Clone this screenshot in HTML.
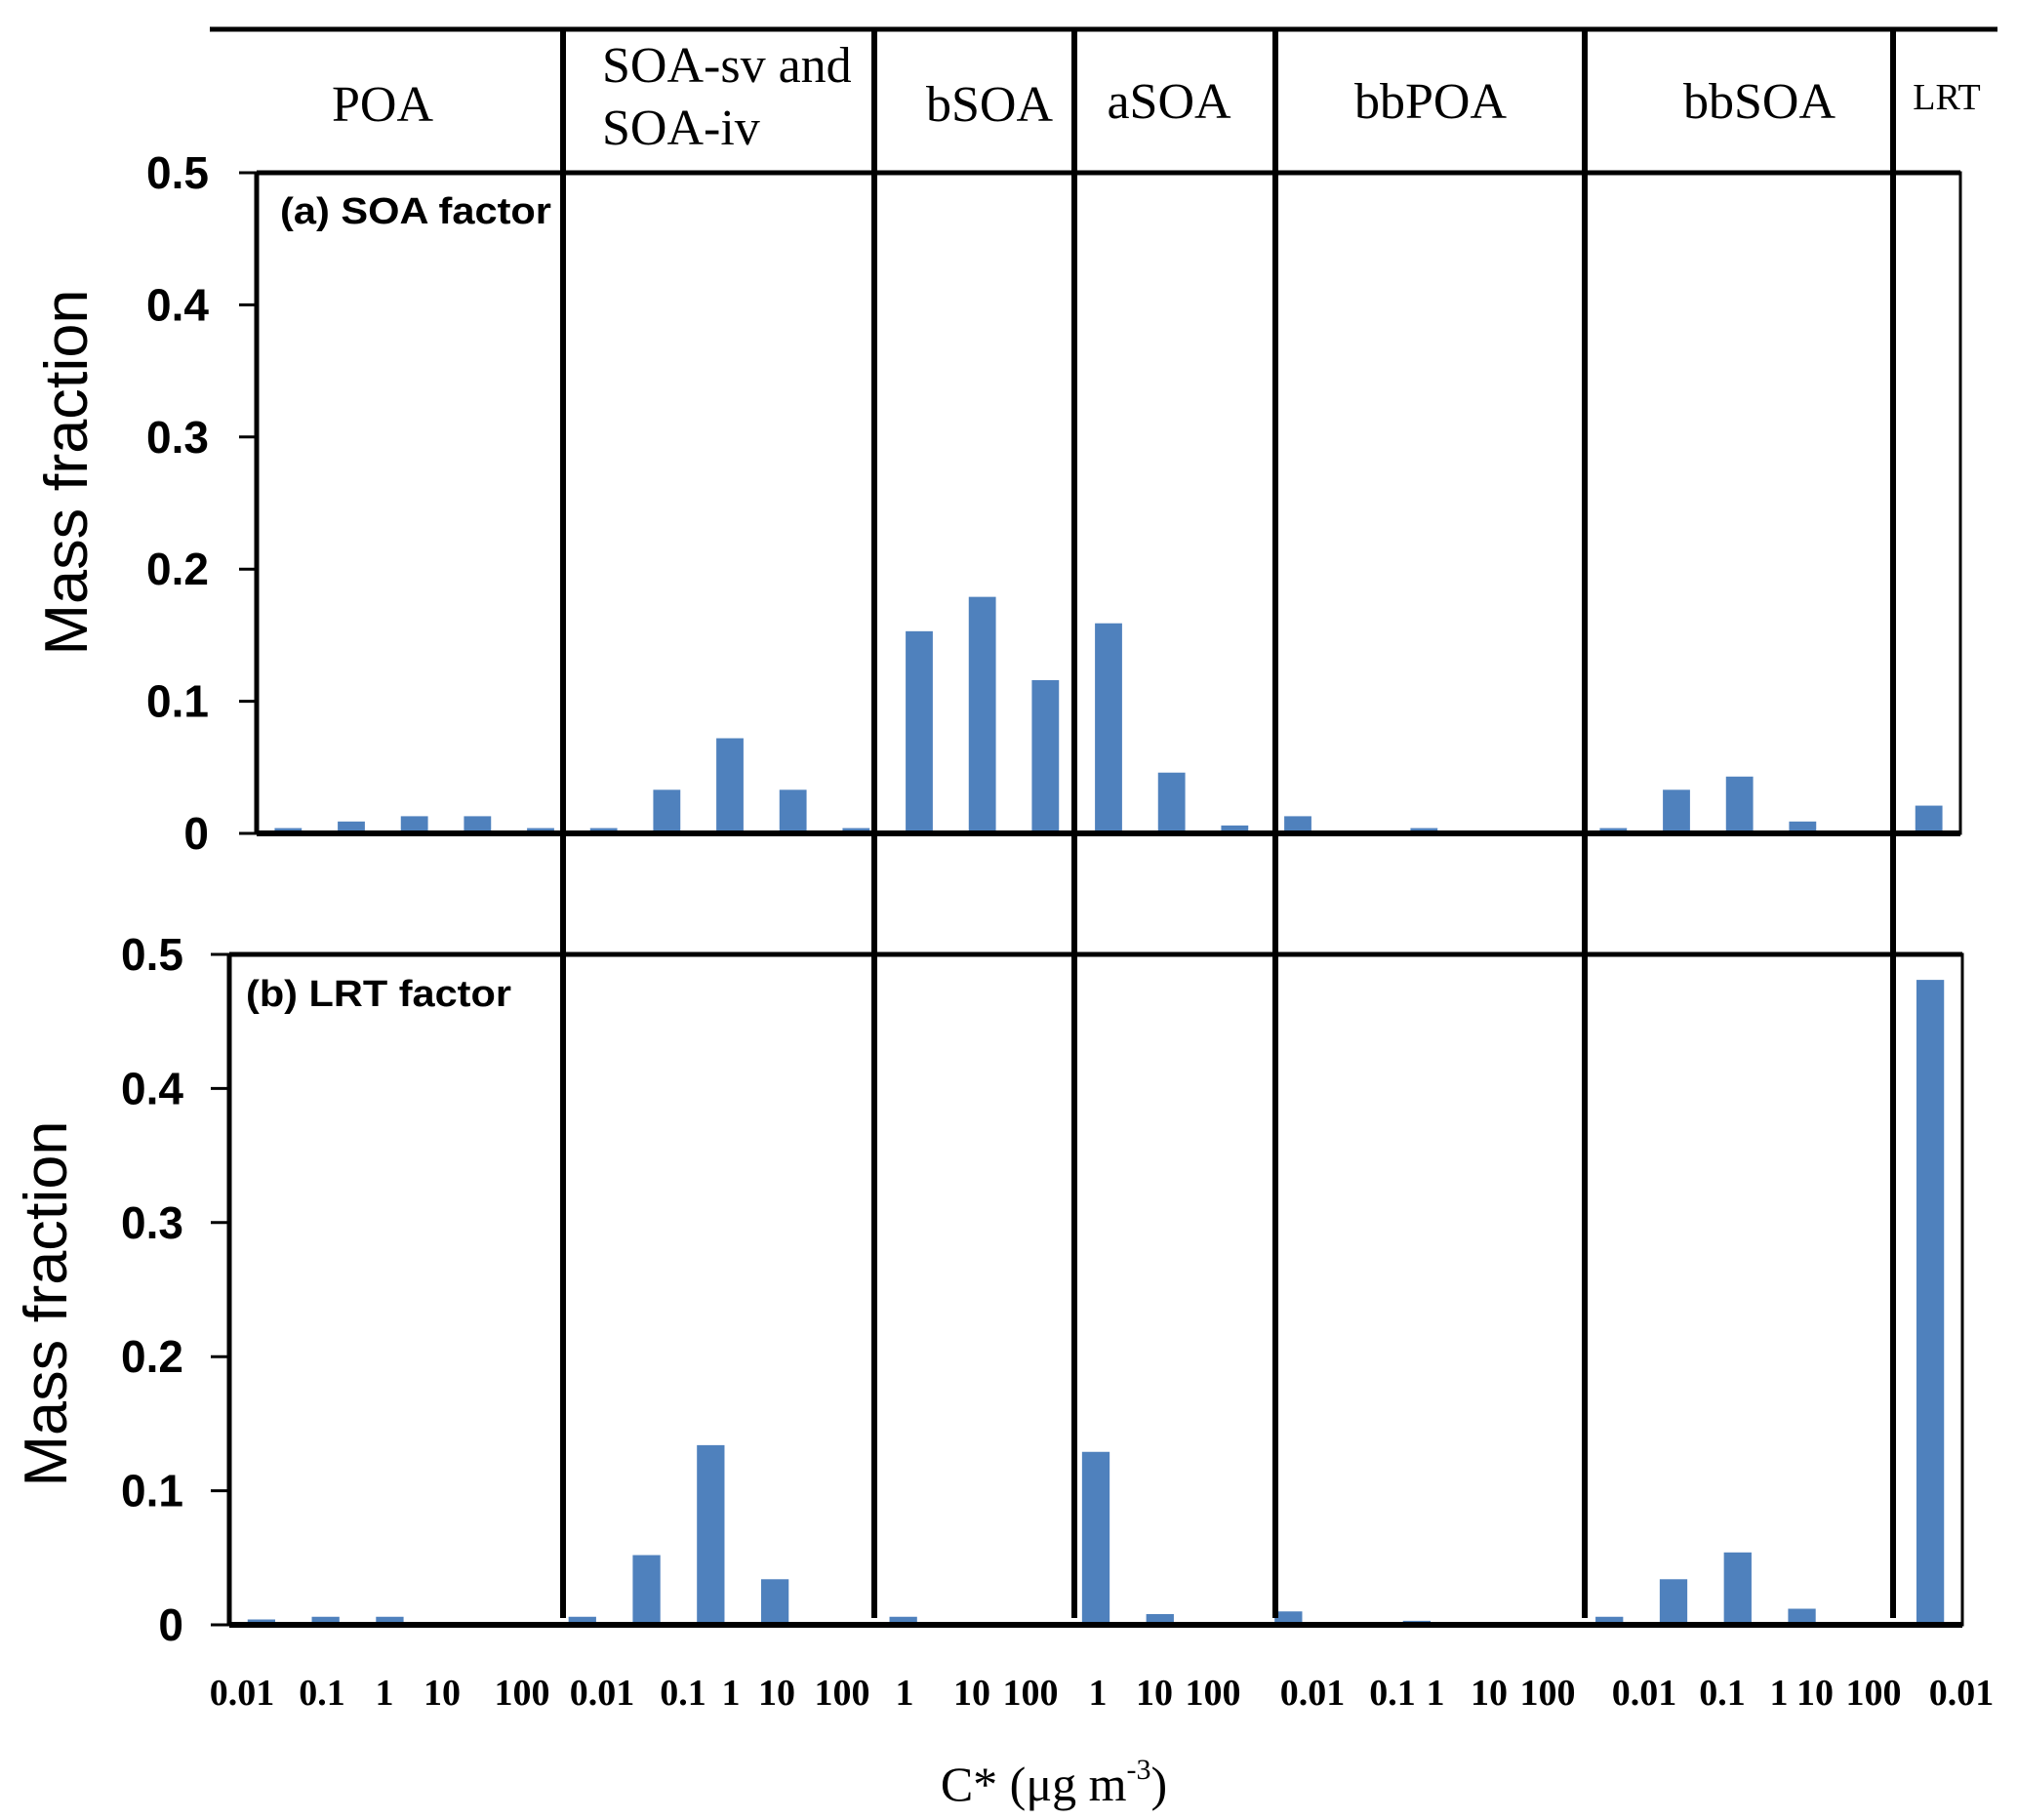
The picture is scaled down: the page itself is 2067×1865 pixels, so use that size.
<!DOCTYPE html>
<html><head><meta charset="utf-8"><style>
html,body{margin:0;padding:0;background:#fff;}
svg{display:block;}
</style></head><body>
<svg id="chart" xmlns="http://www.w3.org/2000/svg" width="2067" height="1865" viewBox="0 0 2067 1865">
<rect x="0" y="0" width="2067" height="1865" fill="#fff"/>
<g id="bars-a"></g>
<g id="bars-b"></g>
<g id="frame"></g>
<g id="texts" font-family="'Liberation Serif', serif" fill="#000">
  <text x="392" y="124" font-size="52" text-anchor="middle">POA</text>
  <text x="617" y="84" font-size="52">SOA-sv and</text>
  <text x="617" y="148" font-size="52">SOA-iv</text>
  <text x="1014" y="124" font-size="52" text-anchor="middle">bSOA</text>
  <text x="1198" y="121" font-size="52" text-anchor="middle">aSOA</text>
  <text x="1466" y="121" font-size="52" text-anchor="middle">bbPOA</text>
  <text x="1803" y="121" font-size="52" text-anchor="middle">bbSOA</text>
  <text x="1995" y="112" font-size="38" text-anchor="middle">LRT</text>
  <text x="287" y="229" font-size="38" font-weight="bold" font-family="'Liberation Sans', sans-serif" textLength="278" lengthAdjust="spacingAndGlyphs">(a) SOA factor</text>
  <text x="252" y="1031" font-size="38" font-weight="bold" font-family="'Liberation Sans', sans-serif" textLength="272" lengthAdjust="spacingAndGlyphs">(b) LRT factor</text>
  <text transform="translate(89,484) rotate(-90)" font-size="62" font-family="'Liberation Sans', sans-serif" text-anchor="middle" textLength="375" lengthAdjust="spacingAndGlyphs">Mass fraction</text>
  <text transform="translate(68,1336) rotate(-90)" font-size="62" font-family="'Liberation Sans', sans-serif" text-anchor="middle" textLength="375" lengthAdjust="spacingAndGlyphs">Mass fraction</text>
  <text x="1080" y="1845" font-size="50" text-anchor="middle">C* (μg m<tspan font-size="30" dy="-22">-3</tspan><tspan dy="22">)</tspan></text>
</g>
<g id="xlabels" font-family="'Liberation Serif', serif" font-weight="bold" font-size="38" fill="#000" text-anchor="middle"></g>
<g id="ylabels" font-family="'Liberation Sans', sans-serif" font-weight="bold" font-size="46" fill="#000" text-anchor="end"></g>
</svg>
<script>
const categories = ["POA 0.01","POA 0.1","POA 1","POA 10","POA 100","SOA 0.01","SOA 0.1","SOA 1","SOA 10","SOA 100","bSOA 1","bSOA 10","bSOA 100","aSOA 1","aSOA 10","aSOA 100","bbPOA 0.01","bbPOA 0.1","bbPOA 1","bbPOA 10","bbPOA 100","bbSOA 0.01","bbSOA 0.1","bbSOA 1","bbSOA 10","bbSOA 100","LRT 0.01"];
const soaFactor = [0.004,0.009,0.013,0.013,0.004, 0.004,0.033,0.072,0.033,0.004, 0.153,0.179,0.116, 0.159,0.046,0.006, 0.013,0,0.004,0.002,0.002, 0.004,0.033,0.043,0.009,0.002, 0.021];
const lrtFactor = [0.004,0.006,0.006,0.002,0, 0.006,0.052,0.134,0.034,0.002, 0.006,0,0, 0.129,0.008,0, 0.010,0,0.003,0.002,0.002, 0.006,0.034,0.054,0.012,0.002, 0.481];
const yTicks = [0,0.1,0.2,0.3,0.4,0.5];
const yTickLabels = ["0","0.1","0.2","0.3","0.4","0.5"];
const xTickLabels = ["0.01","0.1","1","10","100","0.01","0.1","1","10","100","1","10","100","1","10","100","0.01","0.1","1","10","100","0.01","0.1","1","10","100","0.01"];
const xLabelX = [248,330,394,453,535,617,700,749,796,863,927,996,1056,1125,1183,1243,1345,1427,1471,1526,1586,1685,1765,1823,1860,1920,2010];

const NS="http://www.w3.org/2000/svg";
function mk(tag,attrs,parent){const e=document.createElementNS(NS,tag);for(const k in attrs)e.setAttribute(k,attrs[k]);parent.appendChild(e);return e;}
const panels=[
 {key:'a',left:263,right:2009,top:177,bottom:854,data:soaFactor,tickL:245,labR:214,g:'bars-a'},
 {key:'b',left:235,right:2011,top:978,bottom:1665,data:lrtFactor,tickL:216,labR:188,g:'bars-b'}
];
const frame=document.getElementById('frame');
const ylab=document.getElementById('ylabels');
panels.forEach(p=>{
  const y=v=>p.bottom-(v/0.5)*(p.bottom-p.top);
  const n=categories.length, step=(p.right-p.left)/n, bw=step*0.43;
  const x=i=>p.left+step*(i+0.5);
  const g=document.getElementById(p.g);
  p.data.forEach((v,i)=>{
    const h=Math.max(y(0)-y(v),0);
    const r=mk('rect',{x:x(i)-bw/2,y:y(v),width:bw,height:h,fill:'#4F81BD'},g);
    
    
  });
  const b=mk('rect',{x:p.left,y:p.top,width:p.right-p.left,height:p.bottom-p.top,fill:'none',stroke:'#000','stroke-width':3},frame);
  
  
  const ax=mk('line',{x1:p.left,y1:p.top,x2:p.left,y2:p.bottom,stroke:'#000','stroke-width':5},frame);
  
  
  const bx=mk('line',{x1:p.left,y1:p.bottom,x2:p.right,y2:p.bottom,stroke:'#000','stroke-width':6},frame);
  
  
  const tp=mk('line',{x1:p.left,y1:p.top,x2:p.right,y2:p.top,stroke:'#000','stroke-width':5},frame);
  
  
  yTicks.forEach((t,k)=>{
    const tk=mk('line',{x1:p.tickL,y1:y(t),x2:p.left,y2:y(t),stroke:'#000','stroke-width':3},frame);
    
    
    const tx=mk('text',{x:p.labR,y:y(t)+16},ylab);
    tx.textContent=yTickLabels[k];
    
    
  });
});
const topl=mk('line',{x1:215,y1:30,x2:2047,y2:30,stroke:'#000','stroke-width':5},frame);


[577,896,1101,1307,1624,1940].forEach(sx=>{
  const s=mk('line',{x1:sx,y1:28,x2:sx,y2:1658,stroke:'#000','stroke-width':6},frame);
  
  
});
const xl=document.getElementById('xlabels');
xTickLabels.forEach((t,i)=>{
  const tx=mk('text',{x:xLabelX[i],y:1747},xl);
  tx.textContent=t;
  
  
});
</script>
</body></html>
